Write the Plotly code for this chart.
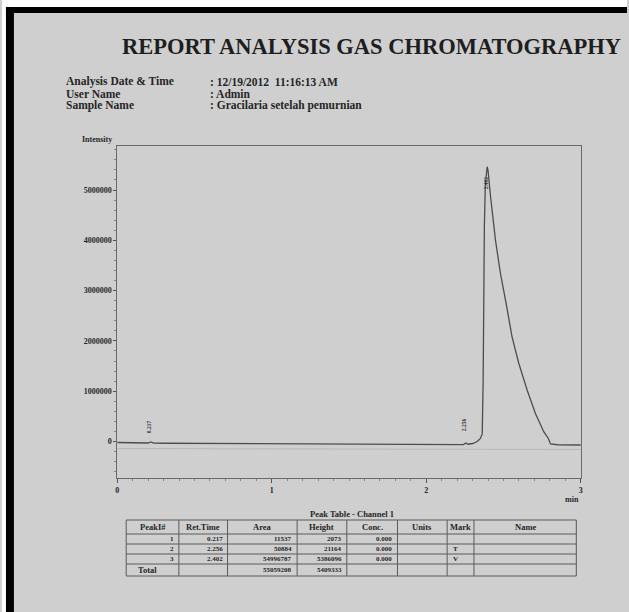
import plotly.graph_objects as go

# ---------------- data ----------------
time_min = [0.00, 0.10, 0.20, 0.217, 0.235, 0.30, 0.60, 1.00, 1.40, 1.80, 2.10, 2.24,
            2.256, 2.27, 2.30, 2.33, 2.35, 2.362, 2.368, 2.372, 2.376, 2.382, 2.388,
            2.394, 2.400, 2.416, 2.448, 2.480, 2.517, 2.555, 2.599, 2.653, 2.707,
            2.761, 2.790, 2.804, 2.85, 2.95, 3.00]
intensity = [-20000, -25000, -30000, -10000, -32000, -35000, -40000, -45000, -50000,
             -55000, -60000, -62000, -30000, -55000, -40000, 0, 60000, 150000, 1200000,
             3000000, 4300000, 5100000, 5400000, 5463000, 5380000, 4867000, 4000000,
             3340000, 2740000, 2080000, 1550000, 1020000, 550000, 190000, 60000, -50000,
             -65000, -70000, -70000]
drift_time = [0.0, 3.0]
drift_intensity = [-140000, -160000]

y_tick_vals = [0, 1000000, 2000000, 3000000, 4000000, 5000000]
y_tick_text = ["0", "1000000", "2000000", "3000000", "4000000", "5000000"]
x_tick_vals = [0, 1, 2, 3]
x_tick_text = ["0", "1", "2", "3"]

peak_ids = ["1", "2", "3"]
ret_times = ["0.217", "2.256", "2.402"]
ret_time_vals = [0.217, 2.256, 2.402]
peak_label_y = [120000, 160000, 5150000]
areas = ["11537", "50884", "54996787"]
heights = ["2073", "21164", "5386096"]
concs = ["0.000", "0.000", "0.000"]
marks = ["", "T", "V"]
total_area = "55059208"
total_height = "5409333"

title = "REPORT ANALYSIS GAS CHROMATOGRAPHY"
info_labels = ["Analysis Date & Time", "User Name", "Sample Name"]
info_values = [": 12/19/2012  11:16:13 AM", ": Admin", ": Gracilaria setelah pemurnian"]
table_headers = ["PeakI#", "Ret.Time", "Area", "Height", "Conc.", "Units", "Mark", "Name"]

# ---------------- layout helpers ----------------
W, H = 629, 612
def px(x):
    return x / W
def py(y):
    return 1 - y / H

SERIF = "Liberation Serif, Times New Roman, serif"
INK = "#262626"
LINE = "#5a5a5a"
BG = "#cfcfcf"

fig = go.Figure()
fig.add_trace(go.Scatter(x=drift_time, y=drift_intensity, mode="lines",
                         line=dict(color="#b8b8b8", width=1), hoverinfo="skip",
                         showlegend=False))
fig.add_trace(go.Scatter(x=time_min, y=intensity, mode="lines",
                         line=dict(color="#4d4d4d", width=1.3), showlegend=False))

shapes = []
annotations = []

# page frame
shapes.append(dict(type="rect", xref="paper", yref="paper", x0=0, x1=1, y0=py(7), y1=1,
                   fillcolor="white", line=dict(width=0), layer="below"))
shapes.append(dict(type="rect", xref="paper", yref="paper", x0=0, x1=px(4), y0=0, y1=1,
                   fillcolor="white", line=dict(width=0), layer="below"))
shapes.append(dict(type="rect", xref="paper", yref="paper", x0=px(4), x1=1, y0=py(13), y1=py(7),
                   fillcolor="black", line=dict(width=0), layer="below"))
shapes.append(dict(type="rect", xref="paper", yref="paper", x0=px(4), x1=px(12), y0=0, y1=py(7),
                   fillcolor="black", line=dict(width=0), layer="below"))

# title & info
annotations.append(dict(text=title, x=px(372), y=py(47), xref="paper", yref="paper",
                        showarrow=False, xanchor="center", yanchor="middle",
                        font=dict(family=SERIF, size=22.5, color="#1e1e1e", weight="bold")))
for i, (lab, val) in enumerate(zip(info_labels, info_values)):
    yy = py(82 + i * 11.5)
    annotations.append(dict(text=lab, x=px(62), y=yy, xref="paper", yref="paper",
                            showarrow=False, xanchor="left", yanchor="middle",
                            font=dict(family=SERIF, size=11.5, color=INK, weight="bold")))
    annotations.append(dict(text=val, x=px(207), y=yy, xref="paper", yref="paper",
                            showarrow=False, xanchor="left", yanchor="middle",
                            font=dict(family=SERIF, size=11.5, color=INK, weight="bold")))

# axis captions
annotations.append(dict(text="Intensity", x=px(113), y=py(140), xref="paper", yref="paper",
                        showarrow=False, xanchor="right", yanchor="middle",
                        font=dict(family=SERIF, size=8, color=INK, weight="bold")))
annotations.append(dict(text="min", x=px(583), y=py(499), xref="paper", yref="paper",
                        showarrow=False, xanchor="right", yanchor="middle",
                        font=dict(family=SERIF, size=8, color=INK, weight="bold")))

# peak labels
for rt, lab, ly in zip(ret_time_vals, ret_times, peak_label_y):
    annotations.append(dict(text=lab, x=rt - 0.01, y=ly, xref="x", yref="y", showarrow=False,
                            textangle=-90, xanchor="center", yanchor="bottom" if ly < 1e6 else "middle",
                            font=dict(family=SERIF, size=5.5, color="#333", weight="bold")))

# peak table
col_edges = [125, 178, 227, 297, 347, 398, 448, 475, 578]
row_edges = [520, 534, 544, 554, 564, 576]
for xe in col_edges:
    shapes.append(dict(type="line", xref="paper", yref="paper", x0=px(xe), x1=px(xe),
                       y0=py(row_edges[0]), y1=py(row_edges[-1]), line=dict(color=LINE, width=1)))
for ye in row_edges:
    shapes.append(dict(type="line", xref="paper", yref="paper", x0=px(col_edges[0]), x1=px(col_edges[-1]),
                       y0=py(ye), y1=py(ye), line=dict(color=LINE, width=1)))

annotations.append(dict(text="Peak Table - Channel 1", x=px(352), y=py(514), xref="paper", yref="paper",
                        showarrow=False, xanchor="center", yanchor="middle",
                        font=dict(family=SERIF, size=8.5, color=INK, weight="bold")))
hf = dict(family=SERIF, size=8.5, color=INK, weight="bold")
tf = dict(family=SERIF, size=7, color=INK, weight="bold")
for j, h in enumerate(table_headers):
    annotations.append(dict(text=h, x=px((col_edges[j] + col_edges[j + 1]) / 2), y=py(527),
                            xref="paper", yref="paper", showarrow=False,
                            xanchor="center", yanchor="middle", font=hf))
row_cols = [peak_ids, ret_times, areas, heights, concs]
for i in range(3):
    yc = py((row_edges[i + 1] + row_edges[i + 2]) / 2)
    for j, col in enumerate(row_cols):
        annotations.append(dict(text=col[i], x=px(col_edges[j + 1] - 3), y=yc, xref="paper", yref="paper",
                                showarrow=False, xanchor="right", yanchor="middle", font=tf))
    if marks[i]:
        annotations.append(dict(text=marks[i], x=px(col_edges[6] + 4), y=yc, xref="paper", yref="paper",
                                showarrow=False, xanchor="left", yanchor="middle", font=tf))
yc = py((row_edges[4] + row_edges[5]) / 2)
annotations.append(dict(text="Total", x=px(col_edges[0] + 10), y=yc, xref="paper", yref="paper",
                        showarrow=False, xanchor="left", yanchor="middle", font=hf))
annotations.append(dict(text=total_area, x=px(col_edges[3] - 3), y=yc, xref="paper", yref="paper",
                        showarrow=False, xanchor="right", yanchor="middle", font=tf))
annotations.append(dict(text=total_height, x=px(col_edges[4] - 3), y=yc, xref="paper", yref="paper",
                        showarrow=False, xanchor="right", yanchor="middle", font=tf))

fig.update_layout(
    width=W, height=H, autosize=False,
    margin=dict(l=0, r=0, t=0, b=0),
    paper_bgcolor=BG, plot_bgcolor=BG,
    shapes=shapes, annotations=annotations,
    xaxis=dict(domain=[px(116), px(582.5)], range=[0, 3], showgrid=False, zeroline=False,
               showline=True, linecolor="#6a6a6a", linewidth=1, mirror=True,
               ticks="outside", ticklen=4, tickcolor="#555", tickvals=x_tick_vals, ticktext=x_tick_text,
               tickfont=dict(family=SERIF, size=8, color=INK, weight="bold"),
               minor=dict(ticks="outside", ticklen=2, dtick=0.1, tickcolor="#888")),
    yaxis=dict(domain=[py(478), py(146)], range=[-726000, 5875000], showgrid=False, zeroline=False,
               showline=True, linecolor="#6a6a6a", linewidth=1, mirror=True,
               ticks="outside", ticklen=3, tickcolor="#555", tickvals=y_tick_vals, ticktext=y_tick_text,
               tickfont=dict(family=SERIF, size=8, color=INK, weight="bold"),
               minor=dict(ticks="outside", ticklen=2, dtick=200000, tickcolor="#888")),
)

fig.write_html("out.html", config={"displayModeBar": False},
               post_script="document.body.style.margin='0';document.body.style.padding='0';"
                           "document.documentElement.style.overflow='hidden';")
